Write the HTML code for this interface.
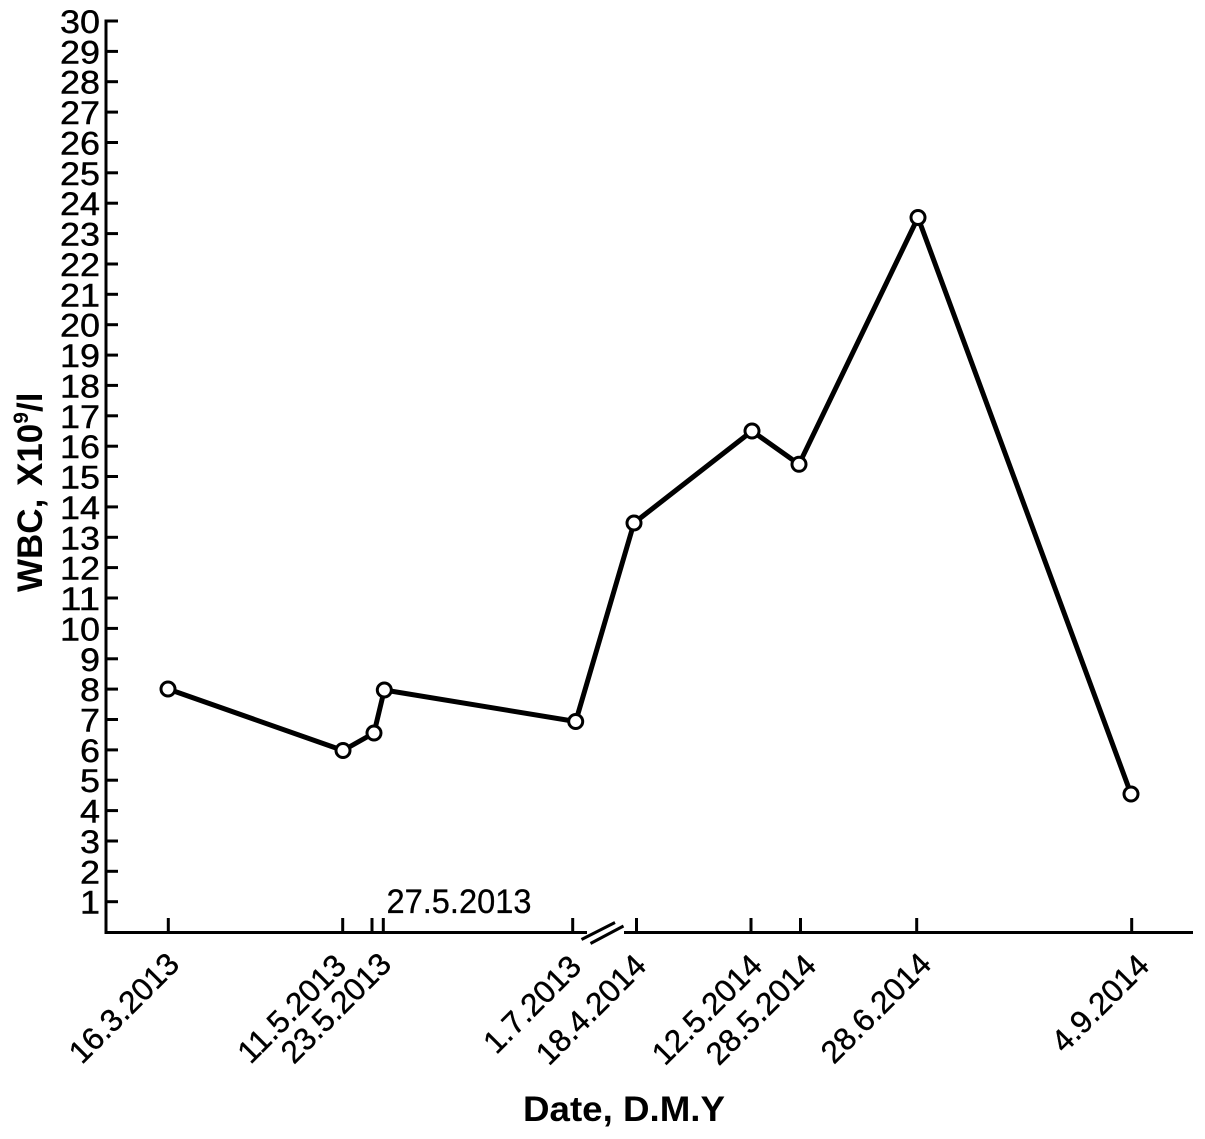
<!DOCTYPE html>
<html>
<head>
<meta charset="utf-8">
<style>
  html,body{margin:0;padding:0;background:#fff;}
  svg{display:block;}
  text{font-family:"Liberation Sans", Arial, sans-serif; fill:#000;}
</style>
</head>
<body>
<svg width="1205" height="1139" viewBox="0 0 1205 1139" xmlns="http://www.w3.org/2000/svg">
  <rect x="0" y="0" width="1205" height="1139" fill="#fff"/>

  <!-- Y axis -->
  <line x1="106" y1="19.5" x2="106" y2="934" stroke="#000" stroke-width="3"/>
  <g stroke="#000" stroke-width="3">
    <line x1="106" y1="21" x2="118" y2="21"/>
    <line x1="106" y1="51.4" x2="118" y2="51.4"/>
    <line x1="106" y1="81.7" x2="118" y2="81.7"/>
    <line x1="106" y1="112.1" x2="118" y2="112.1"/>
    <line x1="106" y1="142.5" x2="118" y2="142.5"/>
    <line x1="106" y1="172.8" x2="118" y2="172.8"/>
    <line x1="106" y1="203.2" x2="118" y2="203.2"/>
    <line x1="106" y1="233.6" x2="118" y2="233.6"/>
    <line x1="106" y1="264" x2="118" y2="264"/>
    <line x1="106" y1="294.3" x2="118" y2="294.3"/>
    <line x1="106" y1="324.7" x2="118" y2="324.7"/>
    <line x1="106" y1="355.1" x2="118" y2="355.1"/>
    <line x1="106" y1="385.4" x2="118" y2="385.4"/>
    <line x1="106" y1="415.8" x2="118" y2="415.8"/>
    <line x1="106" y1="446.2" x2="118" y2="446.2"/>
    <line x1="106" y1="476.5" x2="118" y2="476.5"/>
    <line x1="106" y1="506.9" x2="118" y2="506.9"/>
    <line x1="106" y1="537.3" x2="118" y2="537.3"/>
    <line x1="106" y1="567.6" x2="118" y2="567.6"/>
    <line x1="106" y1="598" x2="118" y2="598"/>
    <line x1="106" y1="628.4" x2="118" y2="628.4"/>
    <line x1="106" y1="658.8" x2="118" y2="658.8"/>
    <line x1="106" y1="689.1" x2="118" y2="689.1"/>
    <line x1="106" y1="719.5" x2="118" y2="719.5"/>
    <line x1="106" y1="749.9" x2="118" y2="749.9"/>
    <line x1="106" y1="780.2" x2="118" y2="780.2"/>
    <line x1="106" y1="810.6" x2="118" y2="810.6"/>
    <line x1="106" y1="841" x2="118" y2="841"/>
    <line x1="106" y1="871.3" x2="118" y2="871.3"/>
    <line x1="106" y1="901.7" x2="118" y2="901.7"/>
  </g>

  <!-- Y tick labels -->
  <g font-size="32" text-anchor="end" stroke="#000" stroke-width="0.4">
    <text x="100" y="33" textLength="40" lengthAdjust="spacingAndGlyphs">30</text>
    <text x="100" y="63.4" textLength="40" lengthAdjust="spacingAndGlyphs">29</text>
    <text x="100" y="93.7" textLength="40" lengthAdjust="spacingAndGlyphs">28</text>
    <text x="100" y="124.1" textLength="40" lengthAdjust="spacingAndGlyphs">27</text>
    <text x="100" y="154.5" textLength="40" lengthAdjust="spacingAndGlyphs">26</text>
    <text x="100" y="184.8" textLength="40" lengthAdjust="spacingAndGlyphs">25</text>
    <text x="100" y="215.2" textLength="40" lengthAdjust="spacingAndGlyphs">24</text>
    <text x="100" y="245.6" textLength="40" lengthAdjust="spacingAndGlyphs">23</text>
    <text x="100" y="276" textLength="40" lengthAdjust="spacingAndGlyphs">22</text>
    <text x="100" y="306.3" textLength="40" lengthAdjust="spacingAndGlyphs">21</text>
    <text x="100" y="336.7" textLength="40" lengthAdjust="spacingAndGlyphs">20</text>
    <text x="100" y="367.1" textLength="40" lengthAdjust="spacingAndGlyphs">19</text>
    <text x="100" y="397.4" textLength="40" lengthAdjust="spacingAndGlyphs">18</text>
    <text x="100" y="427.8" textLength="40" lengthAdjust="spacingAndGlyphs">17</text>
    <text x="100" y="458.2" textLength="40" lengthAdjust="spacingAndGlyphs">16</text>
    <text x="100" y="488.5" textLength="40" lengthAdjust="spacingAndGlyphs">15</text>
    <text x="100" y="518.9" textLength="40" lengthAdjust="spacingAndGlyphs">14</text>
    <text x="100" y="549.3" textLength="40" lengthAdjust="spacingAndGlyphs">13</text>
    <text x="100" y="579.6" textLength="40" lengthAdjust="spacingAndGlyphs">12</text>
    <text x="100" y="610" textLength="40" lengthAdjust="spacingAndGlyphs">11</text>
    <text x="100" y="640.4" textLength="40" lengthAdjust="spacingAndGlyphs">10</text>
    <text x="100" y="670.8" textLength="20" lengthAdjust="spacingAndGlyphs">9</text>
    <text x="100" y="701.1" textLength="20" lengthAdjust="spacingAndGlyphs">8</text>
    <text x="100" y="731.5" textLength="20" lengthAdjust="spacingAndGlyphs">7</text>
    <text x="100" y="761.9" textLength="20" lengthAdjust="spacingAndGlyphs">6</text>
    <text x="100" y="792.2" textLength="20" lengthAdjust="spacingAndGlyphs">5</text>
    <text x="100" y="822.6" textLength="20" lengthAdjust="spacingAndGlyphs">4</text>
    <text x="100" y="853" textLength="20" lengthAdjust="spacingAndGlyphs">3</text>
    <text x="100" y="883.3" textLength="20" lengthAdjust="spacingAndGlyphs">2</text>
    <text x="100" y="913.7" textLength="20" lengthAdjust="spacingAndGlyphs">1</text>
  </g>

  <!-- Y axis title -->
  <g font-weight="bold" font-size="35">
    <text transform="translate(42,592) rotate(-90)">WBC,</text>
    <text transform="translate(42,486) rotate(-90)">X10<tspan font-size="21" dy="-14">9</tspan><tspan dy="14">/l</tspan></text>
  </g>

  <!-- X axis with break -->
  <g stroke="#000" stroke-width="3">
    <line x1="104.5" y1="932.5" x2="587" y2="932.5"/>
    <line x1="624" y1="932.5" x2="1193" y2="932.5"/>
    <line x1="581.5" y1="939.5" x2="615" y2="922.5"/>
    <line x1="590.5" y1="943.5" x2="623.5" y2="926"/>
    <!-- ticks -->
    <line x1="168.3" y1="918" x2="168.3" y2="932.5"/>
    <line x1="342.7" y1="918" x2="342.7" y2="932.5"/>
    <line x1="372" y1="918" x2="372" y2="932.5"/>
    <line x1="383.3" y1="918" x2="383.3" y2="932.5"/>
    <line x1="572.7" y1="918" x2="572.7" y2="932.5"/>
    <line x1="636.5" y1="918" x2="636.5" y2="932.5"/>
    <line x1="751" y1="918" x2="751" y2="932.5"/>
    <line x1="800.5" y1="918" x2="800.5" y2="932.5"/>
    <line x1="916.7" y1="918" x2="916.7" y2="932.5"/>
    <line x1="1131.7" y1="918" x2="1131.7" y2="932.5"/>
  </g>

  <!-- 27.5.2013 label -->
  <text x="386.5" y="913" font-size="34" stroke="#000" stroke-width="0.3" textLength="145" lengthAdjust="spacingAndGlyphs">27.5.2013</text>

  <!-- X tick labels rotated -->
  <g font-size="31.5" text-anchor="end" stroke="#000" stroke-width="0.4">
    <text transform="translate(181,966) rotate(-45)">16.3.2013</text>
    <text transform="translate(348,967.5) rotate(-45)">11.5.2013</text>
    <text transform="translate(393,966) rotate(-45)">23.5.2013</text>
    <text transform="translate(583,968.5) rotate(-45)">1.7.2013</text>
    <text transform="translate(648,967.5) rotate(-45)">18.4.2014</text>
    <text transform="translate(764,967.5) rotate(-45)">12.5.2014</text>
    <text transform="translate(818,967.5) rotate(-45)">28.5.2014</text>
    <text transform="translate(933,966) rotate(-45)">28.6.2014</text>
    <text transform="translate(1151,967.5) rotate(-45)">4.9.2014</text>
  </g>

  <!-- X axis title -->
  <text x="523" y="1121" font-size="35" font-weight="bold" textLength="202" lengthAdjust="spacingAndGlyphs">Date, D.M.Y</text>

  <!-- Data series -->
  <polyline fill="none" stroke="#000" stroke-width="5" stroke-linejoin="round"
    points="168,689 343,750.5 374,733 384.3,690 575.7,721.5 634,523 752,431 799,464.3 918,217.5 1131,794"/>
  <g fill="#fff" stroke="#000" stroke-width="3">
    <circle cx="168" cy="689" r="7"/>
    <circle cx="343" cy="750.5" r="7"/>
    <circle cx="374" cy="733" r="7"/>
    <circle cx="384.3" cy="690" r="7"/>
    <circle cx="575.7" cy="721.5" r="7"/>
    <circle cx="634" cy="523" r="7"/>
    <circle cx="752" cy="431" r="7"/>
    <circle cx="799" cy="464.3" r="7"/>
    <circle cx="918" cy="217.5" r="7"/>
    <circle cx="1131" cy="794" r="7"/>
  </g>
</svg>
</body>
</html>
